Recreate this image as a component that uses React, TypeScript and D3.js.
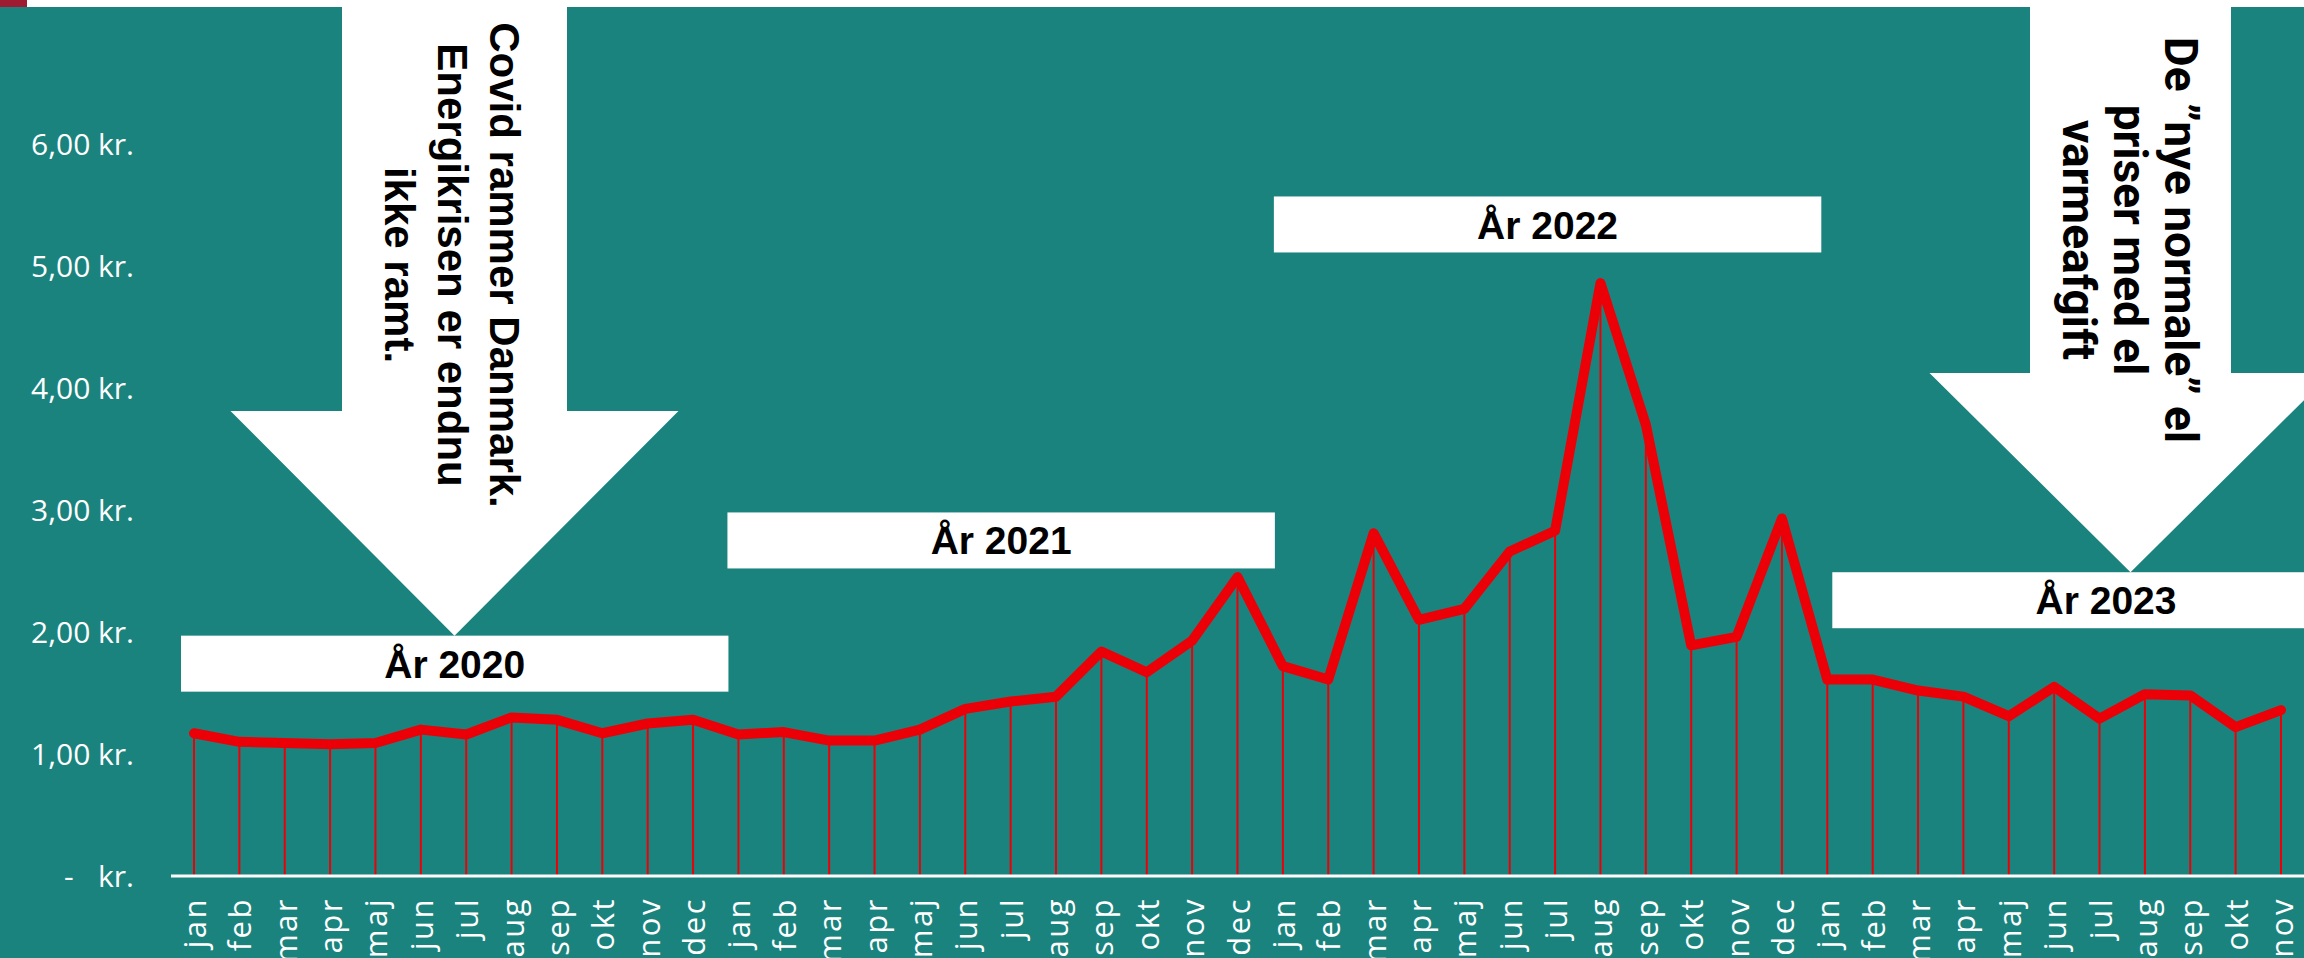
import React from 'react';
import * as d3 from 'd3';

// Elpris pr. kWh, måned for måned (jan 2020 - nov 2023)
const monthNames = ['jan', 'feb', 'mar', 'apr', 'maj', 'jun', 'jul', 'aug', 'sep', 'okt', 'nov', 'dec'];
const prices2020 = [1.17, 1.10, 1.09, 1.08, 1.09, 1.20, 1.16, 1.30, 1.28, 1.17, 1.25, 1.28];
const prices2021 = [1.16, 1.18, 1.11, 1.11, 1.20, 1.37, 1.43, 1.47, 1.84, 1.67, 1.93, 2.45];
const prices2022 = [1.72, 1.61, 2.81, 2.10, 2.19, 2.66, 2.83, 4.86, 3.70, 1.89, 1.96, 2.93];
const prices2023 = [1.61, 1.61, 1.52, 1.47, 1.31, 1.55, 1.29, 1.49, 1.48, 1.22, 1.36];
const yTicks = [0, 1, 2, 3, 4, 5, 6];

const yearLabels = ['År 2020', 'År 2021', 'År 2022', 'År 2023'];
const yearBoxTops = [1.97, 2.98, 5.57, 2.49]; // i kr.-enheder
const yearBoxShift = [-13, -11, -9, 5];

const covidLines = ['Covid rammer Danmark.', 'Energikrisen er endnu', 'ikke ramt.'];
const normalLines = ['De \u201dnye normale\u201d el', 'priser med el', 'varmeafgift'];

const W = 2304;
const H = 958;
const TEAL = '#1b837e';
const RED = '#ec0008';

const values = [...prices2020, ...prices2021, ...prices2022, ...prices2023];
const categories = values.map((_, i) => monthNames[i % 12]);

const x = d3.scalePoint<number>().domain(d3.range(values.length)).range([194, 2281]);
const y = d3.scaleLinear().domain([0, 6]).range([876, 144]);

const line = d3
  .line<number>()
  .x((_, i) => x(i)!)
  .y((d) => y(d));

// pil: tip (x, y), kropsbredde, hovedbredde, kropsbund
function arrowPath(cx: number, tipY: number, bodyHalf: number, headHalf: number, bodyBottom: number) {
  return `M${cx - bodyHalf},0 L${cx + bodyHalf},0 L${cx + bodyHalf},${bodyBottom} L${cx + headHalf},${bodyBottom} L${cx},${tipY} L${cx - headHalf},${bodyBottom} L${cx - bodyHalf},${bodyBottom} Z`;
}

export default function App() {
  const step = x.step();
  const boxW = step * 12 + 3;
  const boxH = 56;

  return (
    <svg
      width={W}
      height={H}
      style={{ position: 'absolute', left: 0, top: 0, display: 'block' }}
    >
      <rect x={0} y={0} width={W} height={H} fill="#ffffff" />
      <rect x={0} y={7} width={W} height={H - 7} fill={TEAL} />
      <rect x={0} y={0} width={27} height={7} fill="#9e1b32" />

      {/* pile */}
      <path d={arrowPath(454.5, y(yearBoxTops[0]), 112.5, 224, 411)} fill="#fff" />
      <path d={arrowPath(2130.5, y(yearBoxTops[3]), 100.5, 201, 373)} fill="#fff" />

      {/* y-akse */}
      {yTicks.map((t) =>
        t === 0 ? (
          <g key={t} fontFamily="'Open Sans', sans-serif" fontSize={30} fill="#fff">
            <text x={64} y={y(t)} dy="0.36em">-</text>
            <text x={134} y={y(t)} dy="0.36em" textAnchor="end">kr.</text>
          </g>
        ) : (
          <text
            key={t}
            x={134}
            y={y(t)}
            dy="0.36em"
            textAnchor="end"
            fontFamily="'Open Sans', sans-serif"
            fontSize={30}
            fill="#fff"
          >
            {d3.format('.2f')(t).replace('.', ',')} kr.
          </text>
        )
      )}

      {/* lodlinjer */}
      {values.map((v, i) => (
        <line key={i} x1={x(i)} x2={x(i)} y1={y(0)} y2={y(v)} stroke={RED} strokeWidth={2} />
      ))}

      <line x1={171} x2={W} y1={y(0)} y2={y(0)} stroke="#fff" strokeWidth={3} />

      <path
        d={line(values)!}
        fill="none"
        stroke={RED}
        strokeWidth={10}
        strokeLinejoin="round"
        strokeLinecap="round"
      />

      {/* måneder */}
      {categories.map((c, i) => (
        <text
          key={i}
          transform={`translate(${x(i)},897) rotate(-90)`}
          dy={12}
          textAnchor="end"
          fontFamily="'Open Sans', sans-serif"
          fontSize={31}
          letterSpacing={2.5}
          fill="#fff"
        >
          {c}
        </text>
      ))}

      {/* år-bokse */}
      {yearLabels.map((label, k) => {
        const bx = x(k * 12)! + yearBoxShift[k];
        const by = y(yearBoxTops[k]);
        return (
          <g key={label}>
            <rect x={bx} y={by} width={boxW} height={boxH} fill="#fff" />
            <text
              x={bx + boxW / 2}
              y={by + boxH / 2}
              dy="0.36em"
              textAnchor="middle"
              fontFamily="'Liberation Sans', Arial, sans-serif"
              fontWeight="bold"
              fontSize={39}
              fill="#000"
            >
              {label}
            </text>
          </g>
        );
      })}

      {/* pil-tekster */}
      {covidLines.map((t, i) => (
        <text
          key={t}
          transform={`translate(${490 - i * 52.5},265) rotate(90)`}
          textAnchor="middle"
          fontFamily="'Liberation Sans', Arial, sans-serif"
          fontWeight="bold"
          fontSize={42}
          fill="#000"
        >
          {t}
        </text>
      ))}
      {normalLines.map((t, i) => (
        <text
          key={t}
          transform={`translate(${2165 - i * 51},240) rotate(90)`}
          textAnchor="middle"
          fontFamily="Roboto, sans-serif"
          fontWeight="bold"
          fontSize={46}
          fill="#000"
        >
          {t}
        </text>
      ))}
    </svg>
  );
}
